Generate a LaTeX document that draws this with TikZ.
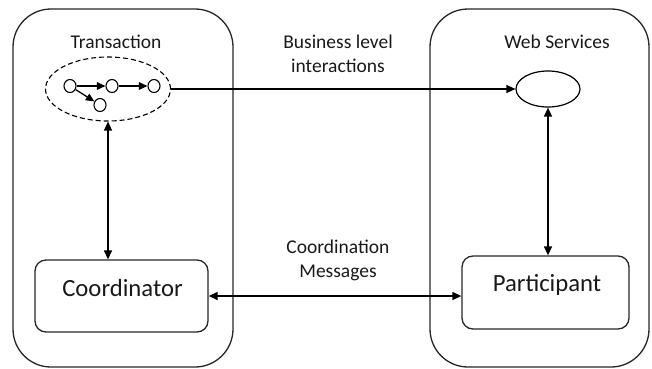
\documentclass[tikz,border=0pt]{standalone}
\usepackage{fontspec}
\setmainfont{Carlito}
\usetikzlibrary{arrows.meta,shapes.geometric,calc}
\begin{document}
\begin{tikzpicture}[x=1pt,y=-1pt,
  container/.style={draw, line width=1.3pt, rounded corners=38pt, inner sep=0pt, draw=black!85},
  box/.style={draw, line width=1.3pt, rounded corners=11pt, inner sep=0pt, draw=black!85},
  lbl/.style={font=\fontsize{19.5}{24}\selectfont, align=center, inner sep=0pt, text=black!90},
  big/.style={font=\fontsize{24.7}{29}\selectfont, inner sep=0pt, text=black!90},
  conn/.style={line width=1.3pt},
  tip/.style={-{Triangle[length=9pt,width=8pt]}},
  dtip/.style={{Triangle[length=9pt,width=8pt]}-{Triangle[length=9pt,width=8pt]}},
  stip/.style={-{Triangle[length=8.5pt,width=7.5pt]}},
  dot/.style={draw, ellipse, line width=1.1pt, minimum width=12pt, minimum height=13pt, inner sep=0pt}
]
\useasboundingbox (0,0) rectangle (652,368);
% containers
\node[container, minimum width=220pt, minimum height=358pt] (left) at (123,188) {};
\node[container, minimum width=219pt, minimum height=358pt] (right) at (539.5,188) {};
% titles
\node[lbl] (ttl) at (116,42) {Transaction};
\node[lbl] (wst) at (557,42) {Web Services};
% transaction ellipse
\node[draw, dash pattern=on 5pt off 3pt, ellipse, line width=1.1pt, minimum width=125pt, minimum height=64pt, inner sep=0pt] (tx) at (108,89) {};
\node[dot] (d1) at (70,86) {};
\node[dot] (d2) at (112,86) {};
\node[dot] (d3) at (154,86) {};
\node[dot] (d4) at (100,105) {};
\draw[conn,stip] (d1) -- (d2);
\draw[conn,stip] (d2) -- (d3);
\draw[conn,stip] (d1) -- (d4);
% web service ellipse
\node[draw, ellipse, line width=1.2pt, minimum width=64pt, minimum height=36pt, inner sep=0pt] (ws) at (548,89) {};
\draw[conn,tip] (tx.east) -- (ws.west);
\node[lbl] (biz) at (338,54) {Business level\\interactions};
% boxes
\node[box, minimum width=173pt, minimum height=72pt] (coord) at (121.5,296) {};
\node[big] (coordtxt) at (122.5,288) {Coordinator};
\node[box, minimum width=167pt, minimum height=73pt] (part) at (545.5,292.5) {};
\node[big] (parttxt) at (547,285) {Participant};
\node[lbl] (msg) at (338,260) {Coordination\\Messages};
% connectors
\draw[conn,dtip] (tx.south) -- (tx.south |- coord.north);
\draw[conn,dtip] (ws.south) -- (ws.south |- part.north);
\draw[conn,dtip] (coord.east) -- (coord.east -| part.west);
\end{tikzpicture}
\end{document}
